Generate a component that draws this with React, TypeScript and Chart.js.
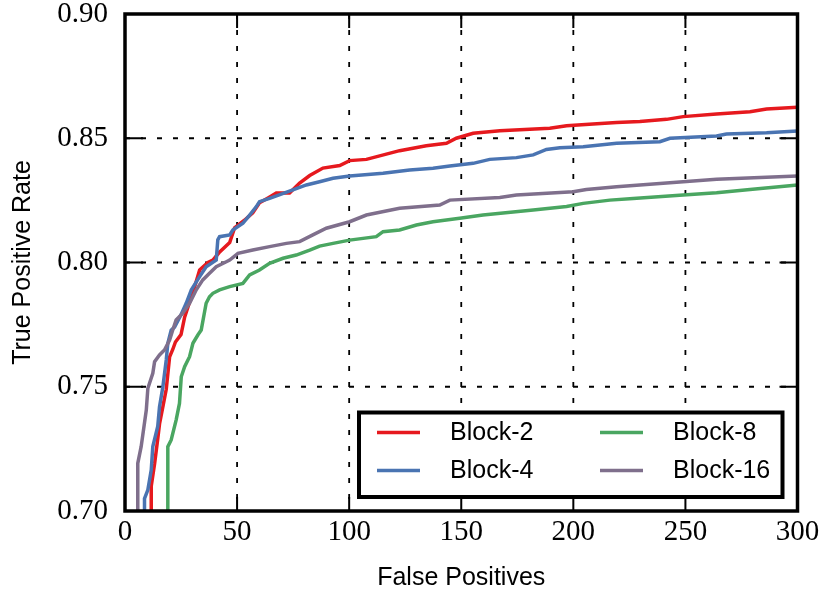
import React, { useEffect, useRef } from "react";
import { Chart, registerables } from "chart.js";

Chart.register(...registerables);

// ---- data ----
const X_TICKS = [0, 50, 100, 150, 200, 250, 300];
const Y_TICKS = [0.7, 0.75, 0.8, 0.85, 0.9];
const SERIES_LABELS = ["Block-2", "Block-4", "Block-8", "Block-16"];
const SERIES_COLORS = ["#e6191e", "#4a74b2", "#4aa661", "#7f6f8c"];

const block2FP = [11.7, 11.7, 13.2, 14.6, 15.4, 16.9, 18.4, 19.9, 21.3, 22.5, 25, 26.6, 28.8, 31, 33.3, 37, 39.2, 42, 46.7, 48.9, 53.3, 57, 60, 63.8, 67.5, 73.4, 77.9, 82.4, 88.3, 95.8, 100.2, 107.7, 122.5, 134.4, 143.4, 147.8, 155.3, 167.2, 189.5, 197, 208.8, 219.3, 229.7, 241.6, 249, 263.9, 278.8, 286.2, 300];
const block2TPR = [0.7, 0.71, 0.719, 0.729, 0.735, 0.742, 0.749, 0.762, 0.765, 0.768, 0.771, 0.778, 0.784, 0.79, 0.797, 0.8, 0.801, 0.804, 0.808, 0.814, 0.817, 0.82, 0.824, 0.826, 0.828, 0.828, 0.832, 0.835, 0.838, 0.839, 0.841, 0.8415, 0.845, 0.847, 0.848, 0.85, 0.852, 0.853, 0.854, 0.855, 0.8557, 0.8563, 0.8567, 0.8576, 0.8587, 0.8598, 0.8607, 0.8618, 0.8625];

const block4FP = [8.7, 8.7, 10.2, 11.7, 12.4, 14.6, 15.4, 16.9, 18.4, 19.1, 20.6, 22.1, 25, 27.3, 29.6, 33.3, 36.2, 40.7, 41.4, 42.2, 46.7, 48.1, 52.6, 55.6, 58.6, 60, 64.5, 74.9, 80.9, 86.8, 92.8, 100.2, 115.1, 127, 137.4, 144.9, 155.3, 162.7, 174.6, 182.1, 188, 194, 204.4, 219.3, 238.6, 243.1, 263.9, 268.3, 286.2, 300];
const block4TPR = [0.7, 0.705, 0.7085, 0.7165, 0.7259, 0.734, 0.742, 0.75, 0.7608, 0.7675, 0.7728, 0.774, 0.779, 0.7836, 0.789, 0.7943, 0.7983, 0.801, 0.8091, 0.8104, 0.8111, 0.8131, 0.8158, 0.8191, 0.8225, 0.8245, 0.8258, 0.8292, 0.8312, 0.8325, 0.8339, 0.8348, 0.8359, 0.8372, 0.8379, 0.8388, 0.8399, 0.8415, 0.8422, 0.8433, 0.8455, 0.8462, 0.8466, 0.848, 0.8486, 0.85, 0.8509, 0.8517, 0.8522, 0.8529];

const block8FP = [19.1, 19.1, 20.6, 22.8, 24.3, 25.1, 26.6, 28.8, 30.3, 32.5, 34, 36.2, 37.7, 39.2, 42.2, 46.7, 52.6, 55.6, 60, 64.5, 70.5, 76.4, 82.4, 86.8, 92.8, 100.2, 112.1, 115.1, 122.5, 130, 137.4, 149.3, 159.7, 182.1, 197, 204.4, 216.3, 226.7, 249, 263.9, 278.8, 300];
const block8TPR = [0.7, 0.7259, 0.7286, 0.7366, 0.7433, 0.754, 0.7581, 0.7621, 0.7675, 0.7708, 0.7728, 0.7836, 0.7862, 0.7876, 0.789, 0.7903, 0.7916, 0.795, 0.797, 0.7997, 0.8017, 0.803, 0.805, 0.8066, 0.8077, 0.809, 0.8104, 0.8124, 0.8131, 0.8151, 0.8164, 0.8178, 0.8191, 0.8211, 0.8225, 0.8238, 0.8251, 0.8258, 0.8272, 0.8281, 0.8294, 0.8312];

const block16FP = [5.7, 5.7, 7.2, 9.5, 10.2, 12.4, 13.2, 15.4, 17.6, 19.9, 21.3, 22.8, 25.8, 28.8, 31.8, 34.7, 37.7, 40.7, 45.2, 46.7, 50.4, 57, 64.5, 72, 77.9, 83.8, 89.8, 100.2, 107.7, 122.5, 140.4, 144.9, 167.2, 174.6, 199.9, 205.8, 219.3, 249, 263.9, 300];
const block16TPR = [0.7, 0.7192, 0.7259, 0.7406, 0.7494, 0.7554, 0.7601, 0.7628, 0.7648, 0.7688, 0.7728, 0.7769, 0.7796, 0.7836, 0.789, 0.793, 0.7957, 0.7983, 0.8003, 0.801, 0.8037, 0.805, 0.8064, 0.8077, 0.8084, 0.8111, 0.8138, 0.8164, 0.8191, 0.8218, 0.8231, 0.8251, 0.8262, 0.8272, 0.8285, 0.8294, 0.8305, 0.8325, 0.8335, 0.8348];

const SERIES_FP = [block2FP, block4FP, block8FP, block16FP];
const SERIES_TPR = [block2TPR, block4TPR, block8TPR, block16TPR];

const SANS = '"Liberation Sans", "DejaVu Sans", sans-serif';
const SERIF = '"Liberation Serif", "DejaVu Serif", serif';

const decorPlugin = {
  id: "decor",
  beforeDatasetsDraw(chart: any) {
    const { ctx, chartArea: a, scales } = chart;
    const xs = scales.x;
    const ys = scales.y;
    ctx.save();
    ctx.strokeStyle = "#000";
    ctx.lineWidth = 1.8;
    ctx.setLineDash([5, 11]);
    X_TICKS.slice(1, -1).forEach((v) => {
      const px = xs.getPixelForValue(v);
      ctx.beginPath();
      ctx.moveTo(px, a.top);
      ctx.lineTo(px, a.bottom);
      ctx.stroke();
    });
    Y_TICKS.slice(1, -1).forEach((v) => {
      const py = ys.getPixelForValue(v);
      ctx.beginPath();
      ctx.moveTo(a.left, py);
      ctx.lineTo(a.right, py);
      ctx.stroke();
    });
    ctx.setLineDash([]);
    ctx.lineWidth = 2;
    X_TICKS.slice(1, -1).forEach((v) => {
      const px = xs.getPixelForValue(v);
      ctx.beginPath();
      ctx.moveTo(px, a.bottom);
      ctx.lineTo(px, a.bottom - 14);
      ctx.moveTo(px, a.top);
      ctx.lineTo(px, a.top + 14);
      ctx.stroke();
    });
    Y_TICKS.slice(1, -1).forEach((v) => {
      const py = ys.getPixelForValue(v);
      ctx.beginPath();
      ctx.moveTo(a.left, py);
      ctx.lineTo(a.left + 18, py);
      ctx.moveTo(a.right, py);
      ctx.lineTo(a.right - 18, py);
      ctx.stroke();
    });
    ctx.restore();
  },
  afterDatasetsDraw(chart: any) {
    const { ctx, chartArea: a } = chart;
    const w = 423.5;
    const h = 84.5;
    const left = a.right - 15 - w;
    const top = a.bottom - 14 - h;
    ctx.save();
    ctx.fillStyle = "#fff";
    ctx.fillRect(left, top, w, h);
    ctx.strokeStyle = "#000";
    ctx.lineWidth = 4;
    ctx.strokeRect(left, top, w, h);
    ctx.font = `25px ${SANS}`;
    ctx.textBaseline = "middle";
    ctx.textAlign = "left";
    chart.data.datasets.forEach((ds: any, i: number) => {
      const col = Math.floor(i / 2);
      const row = i % 2;
      const lx = left + 18 + col * 223;
      const ly = top + 20 + row * 38;
      ctx.strokeStyle = ds.borderColor;
      ctx.lineWidth = 3.5;
      ctx.beginPath();
      ctx.moveTo(lx, ly);
      ctx.lineTo(lx + 43, ly);
      ctx.stroke();
      ctx.fillStyle = "#000";
      ctx.fillText(ds.label, lx + 73, ly + 1);
    });
    ctx.restore();
  },
  afterDraw(chart: any) {
    const { ctx, chartArea: a } = chart;
    ctx.save();
    ctx.strokeStyle = "#000";
    ctx.lineWidth = 3.5;
    ctx.strokeRect(a.left, a.top, a.right - a.left, a.bottom - a.top);
    ctx.restore();
  },
};

export default function App() {
  const ref = useRef<HTMLCanvasElement | null>(null);
  useEffect(() => {
    document.body.style.margin = "0";
    const canvas = ref.current;
    if (!canvas) return;
    const datasets = SERIES_LABELS.map((label, i) => ({
      label,
      data: SERIES_FP[i].map((x, j) => ({ x, y: SERIES_TPR[i][j] })),
      borderColor: SERIES_COLORS[i],
      backgroundColor: SERIES_COLORS[i],
      borderWidth: 3.5,
      pointRadius: 0,
      tension: 0,
      fill: false,
      order: 3 - i,
    }));
    const chart = new Chart(canvas, {
      type: "line",
      data: { datasets },
      options: {
        animation: false,
        responsive: false,
        devicePixelRatio: 1,
        layout: { padding: { top: 14, right: 24.5, left: 0, bottom: 0 } },
        plugins: { legend: { display: false }, tooltip: { enabled: false } },
        scales: {
          x: {
            type: "linear",
            min: 0,
            max: 300,
            afterBuildTicks: (s: any) => {
              s.ticks = X_TICKS.map((v) => ({ value: v }));
            },
            afterFit: (s: any) => {
              s.height = 84;
              s.paddingLeft = 0;
              s.paddingRight = 0;
            },
            grid: { display: false, drawTicks: false, tickLength: 0 },
            border: { display: false },
            ticks: {
              color: "#000",
              font: { family: SERIF, size: 29 },
              padding: 4,
              maxRotation: 0,
              autoSkip: false,
              callback: (v: any) => String(v),
            },
            title: {
              display: true,
              text: "False Positives",
              color: "#000",
              font: { family: SANS, size: 25 },
              padding: { top: 0, bottom: 2 },
            },
          },
          y: {
            type: "linear",
            min: 0.7,
            max: 0.9,
            afterBuildTicks: (s: any) => {
              s.ticks = Y_TICKS.map((v) => ({ value: v }));
            },
            afterFit: (s: any) => {
              s.width = 125;
              s.paddingTop = 0;
              s.paddingBottom = 0;
            },
            grid: { display: false, drawTicks: false, tickLength: 0 },
            border: { display: false },
            ticks: {
              color: "#000",
              font: { family: SERIF, size: 29 },
              padding: 17,
              autoSkip: false,
              callback: (v: any) => Number(v).toFixed(2),
            },
            title: {
              display: true,
              text: "True Positive Rate",
              color: "#000",
              font: { family: SANS, size: 25 },
              padding: { top: 8, bottom: 0 },
            },
          },
        },
      },
      plugins: [decorPlugin],
    } as any);
    return () => chart.destroy();
  }, []);
  return (
    <div style={{ width: 822, height: 595 }}>
      <canvas ref={ref} width={822} height={595} style={{ display: "block" }} />
    </div>
  );
}
